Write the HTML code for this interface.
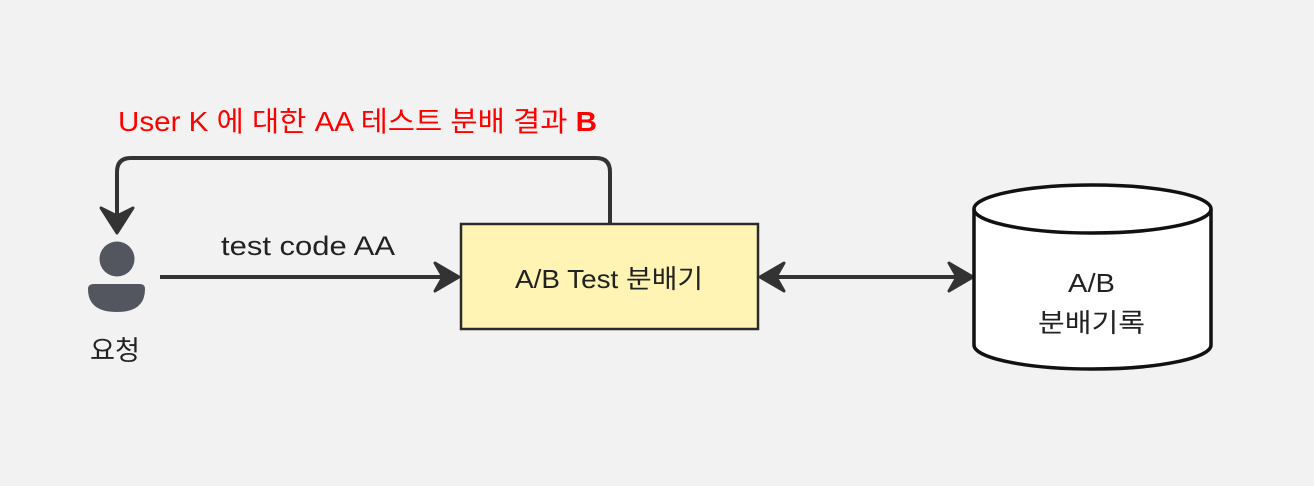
<!DOCTYPE html>
<html><head><meta charset="utf-8"><style>
html,body{margin:0;padding:0;background:#f2f2f2;}
svg{display:block;}
text{font-family:"Liberation Sans","Noto Sans CJK KR",sans-serif;}
</style></head><body>
<svg width="1314" height="486" viewBox="0 0 1314 486" xmlns="http://www.w3.org/2000/svg">
<rect width="1314" height="486" fill="#f2f2f2"/>
<path d="M610 224 V172 Q610 158 596 158 H131 Q117 158 117 172 V222" fill="none" stroke="#333" stroke-width="4"/>
<path d="M101 208 L117 233 L133 208 L117 216 Z" fill="#333" stroke="#333" stroke-width="3" stroke-linejoin="round"/>
<text x="118" y="131" font-size="28" fill="#ff0000" textLength="479" lengthAdjust="spacingAndGlyphs">User K 에 대한 AA 테스트 분배 결과 <tspan font-weight="bold">B</tspan></text>
<circle cx="117" cy="259" r="17.5" fill="#53565e"/>
<path d="M94 284 H140 Q145 284 145 289 Q145 312 117 312 Q88 312 88 289 Q88 284 94 284 Z" fill="#53565e"/>
<text x="90" y="360" font-size="27" fill="#222" textLength="50" lengthAdjust="spacingAndGlyphs">요청</text>
<line x1="160" y1="277" x2="448" y2="277" stroke="#333" stroke-width="4"/>
<path d="M435 263 L459 277 L435 291 L443 277 Z" fill="#333" stroke="#333" stroke-width="3" stroke-linejoin="round"/>
<text x="221" y="255" font-size="27" fill="#222" textLength="174" lengthAdjust="spacingAndGlyphs">test code AA</text>
<rect x="461" y="224" width="297" height="105" fill="#fff4b3" stroke="#2b2b2b" stroke-width="2.5"/>
<text x="515" y="288" font-size="26" fill="#222" textLength="188" lengthAdjust="spacingAndGlyphs">A/B Test 분배기</text>
<line x1="770" y1="277" x2="962" y2="277" stroke="#333" stroke-width="4"/>
<path d="M784 263 L760 277 L784 291 L776 277 Z" fill="#333" stroke="#333" stroke-width="3" stroke-linejoin="round"/>
<path d="M949 263 L973 277 L949 291 L957 277 Z" fill="#333" stroke="#333" stroke-width="3" stroke-linejoin="round"/>
<path d="M974 209 V345 A118.5 24 0 0 0 1211 345 V209" fill="#fff" stroke="#111" stroke-width="3.5"/>
<ellipse cx="1092.5" cy="209" rx="118.5" ry="24" fill="#fff" stroke="#111" stroke-width="3.5"/>
<text x="1068" y="292" font-size="26" fill="#222" textLength="47" lengthAdjust="spacingAndGlyphs">A/B</text>
<text x="1038" y="332" font-size="26" fill="#222" textLength="107" lengthAdjust="spacingAndGlyphs">분배기록</text>
</svg>
</body></html>
